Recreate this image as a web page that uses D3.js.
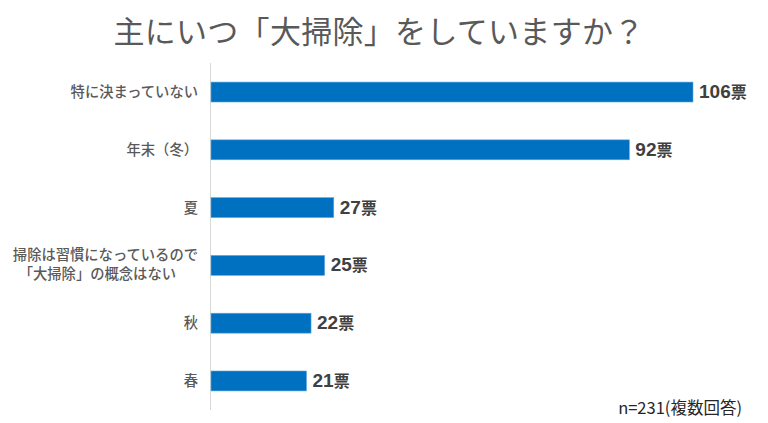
<!DOCTYPE html>
<html>
<head>
<meta charset="utf-8">
<script src="https://cdn.jsdelivr.net/npm/d3@7"></script>
<style>
  body { margin: 0; background: #fff; }
  text { font-family: "Noto Sans CJK JP", "Noto Sans", sans-serif; }
</style>
</head>
<body>
<div id="chart"></div>
<script>
// data
const categories = [
  ["特に決まっていない"],
  ["年末（冬）"],
  ["夏"],
  ["掃除は習慣になっているので", "「大掃除」の概念はない"],
  ["秋"],
  ["春"]
]
const votes = [106, 92, 27, 25, 22, 21]
const unit = "票"
const title = "主にいつ「大掃除」をしていますか？"
const note = "n=231(複数回答)"

const params = {
  fullWidth: 768,
  fullHeight: 423,
  leftMargin: 211,
  rightMargin: 75,
  topMargin: 63,
  bottomMargin: 13,
  getWidth() { return this.fullWidth - this.leftMargin - this.rightMargin },
  getHeight() { return this.fullHeight - this.topMargin - this.bottomMargin }
}

const svg = d3.select("#chart").append("svg")
  .attr("width", params.fullWidth)
  .attr("height", params.fullHeight)

svg.append("text")
  .attr("x", 379)
  .attr("y", 43)
  .attr("text-anchor", "middle")
  .attr("font-size", "31px")
  .attr("letter-spacing", "0.3px")
  .attr("fill", "#595959")
  .text(title)

const g = svg.append("g")
  .attr("transform", `translate(${params.leftMargin},${params.topMargin})`)

const idx = votes.map((d, i) => i)

const x = d3.scaleLinear()
  .domain([0, 106])
  .range([0, 482])

const y = d3.scaleBand()
  .domain(idx)
  .range([0, params.getHeight()])
  .paddingInner(0.655)
  .paddingOuter(0.33)

// category axis line
g.append("line")
  .attr("x1", -0.5).attr("x2", -0.5)
  .attr("y1", 0).attr("y2", params.getHeight())
  .attr("stroke", "#d9d9d9")
  .attr("stroke-width", 1)

g.selectAll("rect.bar")
  .data(idx)
  .enter().append("rect")
  .attr("class", "bar")
  .attr("x", 0)
  .attr("y", i => y(i))
  .attr("width", i => x(votes[i]))
  .attr("height", y.bandwidth())
  .attr("fill", "#0070c0")
  .attr("stroke", "#5fa8e0")
  .attr("stroke-width", 0.6)

// value labels
const val = g.selectAll("text.val")
  .data(idx)
  .enter().append("text")
  .attr("class", "val")
  .attr("x", i => x(votes[i]) + 6)
  .attr("y", i => y(i) + y.bandwidth() / 2)
  .attr("dy", "0.38em")
  .attr("font-weight", "bold")
  .attr("fill", "#404040")
val.append("tspan")
  .attr("font-family", "'Liberation Sans Narrow', 'Liberation Sans', sans-serif")
  .attr("font-size", "19px")
  .text(i => votes[i])
val.append("tspan")
  .attr("font-size", "16px")
  .text(unit)

// category labels
const lab = g.selectAll("text.cat")
  .data(idx)
  .enter().append("text")
  .attr("class", "cat")
  .attr("text-anchor", "end")
  .attr("font-size", "14.3px")
  .attr("font-weight", 500)
  .attr("fill", "#595959")
  .attr("transform", i => `translate(-13,${y(i) + y.bandwidth() / 2})`)

lab.selectAll("tspan")
  .data(i => categories[i].map((t, k) => ({ t, k, n: categories[i].length })))
  .enter().append("tspan")
  .attr("x", d => d.k == 1 ? -22 : 0)
  .attr("y", d => (d.k - (d.n - 1) / 2) * 19 - (d.n - 1) * 1.5)
  .attr("dy", "0.36em")
  .text(d => d.t)

svg.append("text")
  .attr("x", 742)
  .attr("y", 414)
  .attr("text-anchor", "end")
  .attr("font-size", "16.5px")
  .attr("fill", "#262626")
  .text(note)
</script>
</body>
</html>
